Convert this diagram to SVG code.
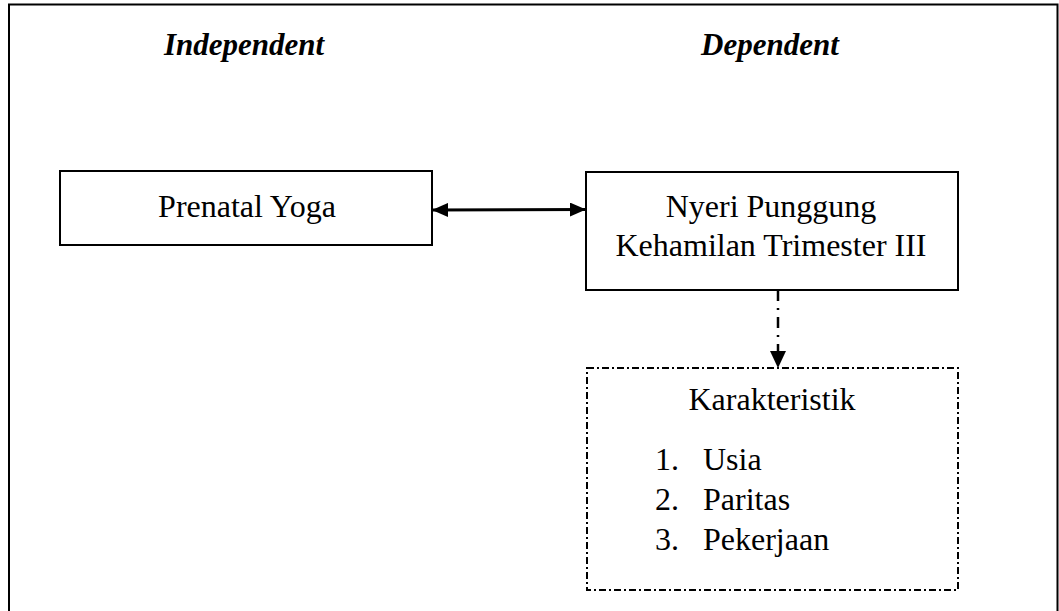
<svg xmlns="http://www.w3.org/2000/svg" width="1059" height="611" viewBox="0 0 1059 611">
<style>
.box{fill:#fff;stroke:#000;stroke-width:2}
.dbox{fill:none;stroke:#000;stroke-width:2;stroke-dasharray:7 3 2 3}
</style>
<defs>
<marker id="ah" markerWidth="16" markerHeight="14" refX="16" refY="7" orient="auto-start-reverse" markerUnits="userSpaceOnUse">
<path d="M0,0 L16,7 L0,14 Z" fill="#000"/>
</marker>
<marker id="ah2" markerWidth="17" markerHeight="16" refX="17" refY="8" orient="auto" markerUnits="userSpaceOnUse">
<path d="M0,0 L17,8 L0,16 Z" fill="#000"/>
</marker>
</defs>
<rect x="0" y="0" width="1059" height="611" fill="#fff"/>
<path id="frame" d="M9,620 L9,4.5 L1057.5,4.5 L1057.5,620" fill="none" stroke="#000" stroke-width="2"/>
<g font-family="Liberation Serif, Times New Roman, serif" fill="#000">
<g font-size="31" font-weight="bold" font-style="italic">
<text x="244" y="55" text-anchor="middle">Independent</text>
<text x="770" y="55" text-anchor="middle">Dependent</text>
</g>
<g id="connectors">
<line x1="432" y1="210" x2="586" y2="209.5" stroke="#000" stroke-width="3" marker-start="url(#ah)" marker-end="url(#ah)"/>
<line x1="778" y1="290" x2="778" y2="368" stroke="#000" stroke-width="2.5" stroke-dasharray="11 7 2 7" marker-end="url(#ah2)"/>
</g>
<g id="prenatal" font-size="32">
<rect class="box" x="60" y="171" width="372" height="74"/>
<text x="247" y="217" text-anchor="middle">Prenatal Yoga</text>
</g>
<g id="nyeri" font-size="32">
<rect class="box" x="586" y="172" width="372" height="118"/>
<text x="771" y="217" text-anchor="middle">Nyeri Punggung</text>
<text x="771" y="256" text-anchor="middle">Kehamilan Trimester III</text>
</g>
<g id="karakteristik" font-size="32">
<rect class="dbox" x="587" y="368" width="371" height="222"/>
<text x="772" y="410" text-anchor="middle">Karakteristik</text>
<text x="655" y="470">1.</text><text x="703" y="470">Usia</text>
<text x="655" y="510">2.</text><text x="703" y="510">Paritas</text>
<text x="655" y="550">3.</text><text x="703" y="550">Pekerjaan</text>
</g>
</g>
</svg>
